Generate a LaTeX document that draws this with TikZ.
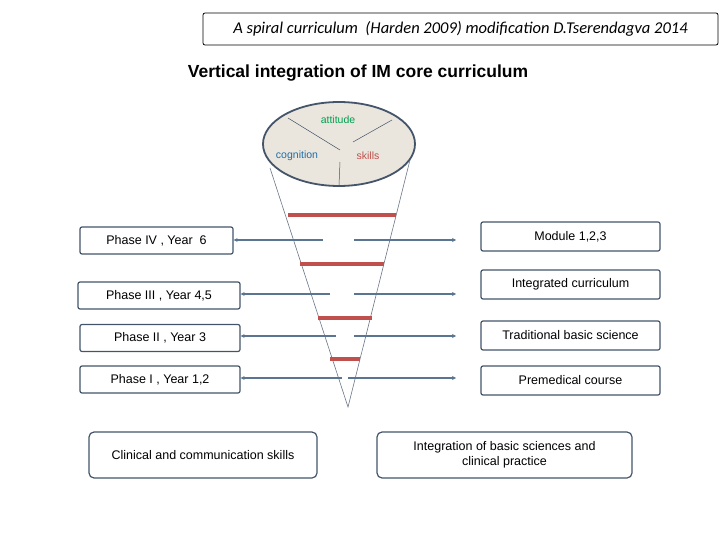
\documentclass[tikz,border=0pt]{standalone}
\usepackage{fontspec}
\setmainfont{Liberation Sans}
\newfontfamily\carl{Carlito}
\usetikzlibrary{arrows.meta,shapes.geometric}
\definecolor{bord}{HTML}{44546A}
\definecolor{arr}{HTML}{5A7592}
\definecolor{bar}{HTML}{C0504D}
\tikzset{
 box/.style={draw=bord,line width=1.2pt,rounded corners=2pt,minimum height=27pt,font=\fontsize{12.5}{15}\selectfont,inner sep=0pt},
 conn/.style={draw=arr,line width=1.5pt,-{Stealth[length=4pt,width=4pt]}},
 redbar/.style={draw=bar,line width=3.5pt},
 cone/.style={draw=bord!80,line width=0.6pt},
 lab/.style={font=\fontsize{10.5}{12}\selectfont}
}
\begin{document}
\begin{tikzpicture}[x=1pt,y=-1pt]
\useasboundingbox (0,0) rectangle (720,540);
\node[draw=black,line width=0.8pt,rounded corners=2pt,minimum width=515pt,minimum height=32pt,font=\carl\itshape\fontsize{16.5}{19}\selectfont] (title) at (460.5,29) {A spiral curriculum\ \ (Harden 2009) modification D.Tserendagva 2014};
\node[font=\bfseries\fontsize{17.5}{20}\selectfont] (head) at (358,73) {Vertical integration of IM core curriculum};
% ellipse
\node[draw=bord,fill={rgb,255:red,234;green,230;blue,221},line width=1.8pt,ellipse,minimum width=152pt,minimum height=84pt] (ell) at (339,144) {};
\coordinate (c) at (340,150);
\coordinate (e1) at (288,118);\coordinate (e2) at (392,120);\coordinate (e3) at (339,185);\coordinate (c2) at (353,142);\coordinate (c3) at (340,162);
\draw[bord,line width=0.5pt] (e1)--(c) (e2)--(c2) (c3)--(e3);
\node[lab,text={rgb,255:red,0;green,160;blue,80}] (att) at (338,120) {attitude};
\node[lab,text={rgb,255:red,30;green,110;blue,170}] (cog) at (297,156) {cognition};
\node[lab,text=bar] (sk) at (368,156) {skills};
% cone
\coordinate (apex) at (348,407);\coordinate (cl) at (270,168);\coordinate (cr) at (410,160);
\draw[cone] (cl)--(apex)--(cr);
% red bars
\foreach \y/\a/\b [count=\i] in {215/288/396,264/300/384,318/318/372,359/330/360}{
 \coordinate (ra\i) at (\a,\y);\coordinate (rb\i) at (\b,\y);
 \draw[redbar] (ra\i)--(rb\i);}
% left boxes
\node[box,minimum width=153pt] (p4) at (156.5,240.5) {Phase IV , Year\ \ 6};
\node[box,minimum width=162pt] (p3) at (159,295.5) {Phase III , Year 4,5};
\node[box,minimum width=160pt] (p2) at (160,338) {Phase II , Year 3};
\node[box,minimum width=160pt] (p1) at (160,379.5) {Phase I , Year 1,2};
% right boxes
\node[box,minimum width=179pt,minimum height=29pt] (m) at (570.5,236.5) {Module 1,2,3};
\node[box,minimum width=179pt,minimum height=29pt] (ic) at (570.5,284.5) {Integrated curriculum};
\node[box,minimum width=179pt,minimum height=29pt] (tb) at (570.5,335.5) {Traditional basic science};
\node[box,minimum width=179pt,minimum height=29pt] (pm) at (570.5,380.5) {Premedical course};
% arrows
\foreach \y/\l/\r/\rr [count=\i] in {240/323/354/456,294/330/354/456,336/336/354/456,378/342/348/456}{
 \coordinate (sl\i) at (\l,\y);\coordinate (sr\i) at (\r,\y);\coordinate (er\i) at (\rr,\y);}
\draw[conn] (sl1)--(p4.east|-sl1);
\draw[conn] (sl2)--(p3.east|-sl2);
\draw[conn] (sl3)--(p2.east|-sl3);
\draw[conn] (sl4)--(p1.east|-sl4);
\foreach \i in {1,...,4}{\draw[conn] (sr\i)--(er\i);}
% bottom
\node[box,minimum width=228pt,minimum height=46pt,rounded corners=5pt] (cc) at (203,455) {Clinical and communication skills};
\node[box,minimum width=255pt,minimum height=46pt,rounded corners=5pt,align=center] (ib) at (504.5,455) {Integration of basic sciences and\\clinical practice};
\end{tikzpicture}
\end{document}
